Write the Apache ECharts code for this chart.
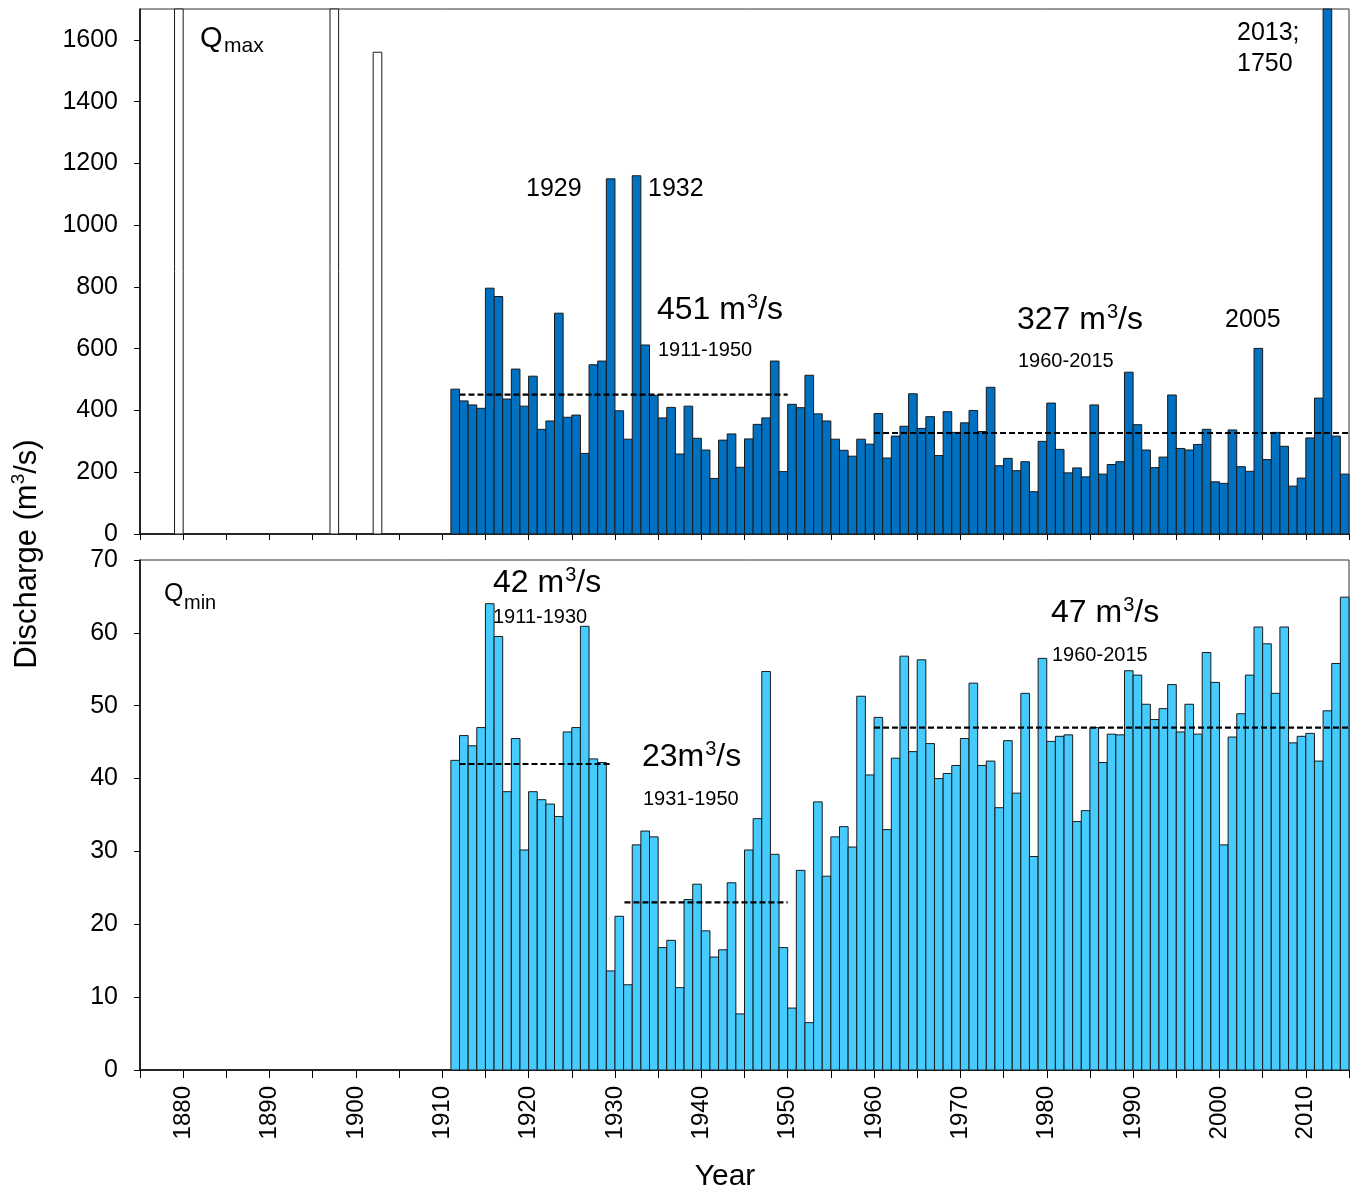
<!DOCTYPE html>
<html>
<head>
<meta charset="utf-8">
<script src="https://cdn.jsdelivr.net/npm/echarts@6/dist/echarts.min.js"></script>
<style>
  html, body { margin: 0; padding: 0; background: #fff; }
  #chart { width: 1353px; height: 1194px; }
</style>
</head>
<body>
<div id="chart"></div>
<script>
// Bar positions: each bar covers [year, year + 1] on the time axis
const years = [
  1911, 1912, 1913, 1914, 1915, 1916, 1917, 1918, 1919, 1920,
  1921, 1922, 1923, 1924, 1925, 1926, 1927, 1928, 1929, 1930,
  1931, 1932, 1933, 1934, 1935, 1936, 1937, 1938, 1939, 1940,
  1941, 1942, 1943, 1944, 1945, 1946, 1947, 1948, 1949, 1950,
  1951, 1952, 1953, 1954, 1955, 1956, 1957, 1958, 1959, 1960,
  1961, 1962, 1963, 1964, 1965, 1966, 1967, 1968, 1969, 1970,
  1971, 1972, 1973, 1974, 1975, 1976, 1977, 1978, 1979, 1980,
  1981, 1982, 1983, 1984, 1985, 1986, 1987, 1988, 1989, 1990,
  1991, 1992, 1993, 1994, 1995, 1996, 1997, 1998, 1999, 2000,
  2001, 2002, 2003, 2004, 2005, 2006, 2007, 2008, 2009, 2010,
  2011, 2012, 2013, 2014
];

// Annual maximum discharge (m3/s)
const qmax = [
  469, 431, 418, 407, 796, 769, 437, 534, 414, 511,
  339, 366, 715, 378, 385, 261, 548, 560, 1150, 399,
  307, 1160, 612, 449, 376, 410, 259, 414, 310, 272,
  180, 304, 324, 216, 308, 355, 376, 560, 202, 420,
  409, 514, 389, 366, 307, 271, 252, 307, 291, 390,
  246, 317, 349, 454, 342, 380, 254, 396, 329, 360,
  400, 332, 475, 221, 245, 205, 234, 137, 300, 424,
  274, 198, 214, 185, 418, 194, 225, 234, 524, 354,
  272, 215, 249, 450, 277, 272, 290, 339, 169, 164,
  337, 218, 203, 601, 241, 329, 284, 155, 181, 311,
  440, 1750, 317, 194
];

// Annual minimum discharge (m3/s)
const qmin = [
  42.5, 45.9, 44.5, 47.0, 64.0, 59.5, 38.2, 45.5, 30.2, 38.2,
  37.1, 36.5, 34.8, 46.4, 47.0, 60.9, 42.7, 42.2, 13.6, 21.1,
  11.7, 30.9, 32.8, 32.0, 16.8, 17.8, 11.3, 23.4, 25.5, 19.1,
  15.5, 16.5, 25.7, 7.7, 30.2, 34.5, 54.7, 29.6, 16.8, 8.5,
  27.4, 6.5, 36.8, 26.6, 32.0, 33.4, 30.6, 51.3, 40.5, 48.4,
  33.0, 42.8, 56.8, 43.7, 56.3, 44.8, 40.0, 40.7, 41.8, 45.5,
  53.1, 41.8, 42.4, 36.0, 45.2, 38.0, 51.7, 29.3, 56.5, 45.1,
  45.8, 46.0, 34.1, 35.6, 47.0, 42.2, 46.1, 46.0, 54.8, 54.2,
  50.2, 48.1, 49.6, 52.9, 46.4, 50.2, 46.1, 57.3, 53.2, 30.9,
  45.7, 48.9, 54.2, 60.8, 58.5, 51.7, 60.8, 44.9, 45.8, 46.2,
  42.4, 49.3, 55.8, 64.9
];

// Historical floods before the continuous record (m3/s)
const histYears = [1879, 1897, 1902];
const histQmax = [1850, 1800, 1560];

// Period means: [from, to, value]
const maxMeans = [[1912, 1950, 451], [1960, 2015, 327]];
const minMeans = [[1912, 1929.6, 42], [1931.1, 1950, 23], [1960, 2015, 47]];

// Axis ticks
const yearMin = 1875, yearMax = 2015, yearStep = 5;
const qmaxTicks = { min: 0, max: 1700, interval: 200 };
const qminTicks = { min: 0, max: 70, interval: 10 };

const FONT = '"Liberation Sans", Arial, Helvetica, sans-serif';
const DARK_BLUE = '#0070C0';
const LIGHT_BLUE = '#45CBFD';

function barRenderer(fill) {
  return function (params, api) {
    const x = api.value(0);
    const v = api.value(1);
    const p0 = api.coord([x, 0]);
    const p1 = api.coord([x + 1, v]);
    const cs = params.coordSys;
    const shape = echarts.graphic.clipRectByRect(
      { x: p0[0], y: p1[1], width: p1[0] - p0[0], height: p0[1] - p1[1] },
      { x: cs.x, y: cs.y, width: cs.width, height: cs.height }
    );
    if (!shape) return null;
    return {
      type: 'rect',
      shape: shape,
      style: { fill: fill, stroke: '#1a1a1a', lineWidth: 1 }
    };
  };
}

function xAxisFor(gridIndex, showLabels, tickLen) {
  return {
    type: 'value', gridIndex: gridIndex,
    min: yearMin, max: yearMax, interval: yearStep,
    axisLine: { show: true, onZero: false, lineStyle: { color: '#000', width: 1.5 } },
    axisTick: { show: true, length: tickLen, lineStyle: { color: '#000', width: 1 } },
    splitLine: { show: false },
    axisLabel: {
      show: showLabels, rotate: 90, margin: 16,
      fontSize: 24, fontFamily: FONT, color: '#000',
      formatter: v => (v % 10 === 0 && v > yearMin && v < yearMax ? String(v) : '')
    }
  };
}

function yAxisFor(gridIndex, t) {
  return {
    type: 'value', gridIndex: gridIndex,
    min: t.min, max: t.max, interval: t.interval,
    axisLine: { show: true, lineStyle: { color: '#000', width: 1.5 } },
    axisTick: { show: true, length: 6, lineStyle: { color: '#000', width: 1 } },
    splitLine: { show: false },
    axisLabel: {
      margin: 22, fontSize: 25, fontFamily: FONT, color: '#000',
      showMaxLabel: t.max % t.interval === 0,
      formatter: v => (v % t.interval === 0 ? String(v) : '')
    }
  };
}

function meanLines(spans, xi, yi) {
  return spans.map(s => ({
    type: 'line', xAxisIndex: xi, yAxisIndex: yi,
    data: [[s[0], s[2]], [s[1], s[2]]],
    symbol: 'none', silent: true, z: 5,
    lineStyle: { color: '#000', width: 2.2, type: [6, 3] }
  }));
}

function text(x, y, str, size, align) {
  return {
    type: 'text', x: x, y: y, z: 100,
    style: {
      text: str, fill: '#000', fontSize: size, fontFamily: FONT,
      align: align || 'left', verticalAlign: 'middle'
    }
  };
}

function rateText(x, y, num) {
  return {
    type: 'text', x: x, y: y, z: 100,
    style: {
      text: '{n|' + num + '}{s|3}{n|/s}',
      align: 'left', verticalAlign: 'middle',
      rich: {
        n: { fontSize: 32, fontFamily: FONT, fill: '#000', lineHeight: 34, verticalAlign: 'bottom' },
        s: { fontSize: 20, fontFamily: FONT, fill: '#000', lineHeight: 34, verticalAlign: 'top', padding: [0, 0, 0, 1] }
      }
    }
  };
}

const chart = echarts.init(document.getElementById('chart'), null, { renderer: 'canvas' });

chart.setOption({
  animation: false,
  backgroundColor: '#fff',
  grid: [
    { left: 140, top: 9, width: 1209, height: 525, show: true, borderColor: '#333', borderWidth: 1 },
    { left: 140, top: 560, width: 1209, height: 510, show: true, borderColor: '#333', borderWidth: 1 }
  ],
  xAxis: [xAxisFor(0, false, 6), xAxisFor(1, true, 8)],
  yAxis: [yAxisFor(0, qmaxTicks), yAxisFor(1, qminTicks)],
  series: [
    {
      type: 'custom', xAxisIndex: 0, yAxisIndex: 0, z: 2,
      renderItem: barRenderer('#ffffff'),
      encode: { x: 0, y: 1 },
      data: histYears.map((y, i) => [y, histQmax[i]])
    },
    {
      type: 'custom', xAxisIndex: 0, yAxisIndex: 0, z: 2,
      renderItem: barRenderer(DARK_BLUE),
      encode: { x: 0, y: 1 },
      data: years.map((y, i) => [y, qmax[i]])
    },
    {
      type: 'custom', xAxisIndex: 1, yAxisIndex: 1, z: 2,
      renderItem: barRenderer(LIGHT_BLUE),
      encode: { x: 0, y: 1 },
      data: years.map((y, i) => [y, qmin[i]])
    }
  ].concat(meanLines(maxMeans, 0, 0), meanLines(minMeans, 1, 1)),
  graphic: [
    // panel titles
    text(200, 39, 'Q', 29),
    text(224, 46, 'max', 21),
    text(164, 594, 'Q', 25),
    text(184, 603, 'min', 20),
    // peak years (upper panel)
    text(526, 189, '1929', 25),
    text(648, 189, '1932', 25),
    text(1225, 320, '2005', 25),
    text(1237, 33, '2013;', 25),
    text(1237, 64, '1750', 25),
    // period means (upper panel)
    rateText(657, 309, '451 m'),
    text(658, 350, '1911-1950', 20),
    rateText(1017, 319, '327 m'),
    text(1018, 361, '1960-2015', 20),
    // period means (lower panel)
    rateText(493, 582, '42 m'),
    text(493, 617, '1911-1930', 20),
    rateText(642, 756, '23m'),
    text(643, 799, '1931-1950', 20),
    rateText(1051, 612, '47 m'),
    text(1052, 655, '1960-2015', 20),
    // axis titles
    {
      type: 'text', x: 26, y: 554, rotation: Math.PI / 2, z: 100,
      style: {
        text: '{n|Discharge (m}{s|3}{n|/s)}',
        align: 'center', verticalAlign: 'middle',
        rich: {
          n: { fontSize: 31, fontFamily: FONT, fill: '#000', lineHeight: 34, verticalAlign: 'bottom' },
          s: { fontSize: 19, fontFamily: FONT, fill: '#000', lineHeight: 34, verticalAlign: 'top' }
        }
      }
    },
    text(725, 1177, 'Year', 30, 'center')
  ]
});
</script>
</body>
</html>
